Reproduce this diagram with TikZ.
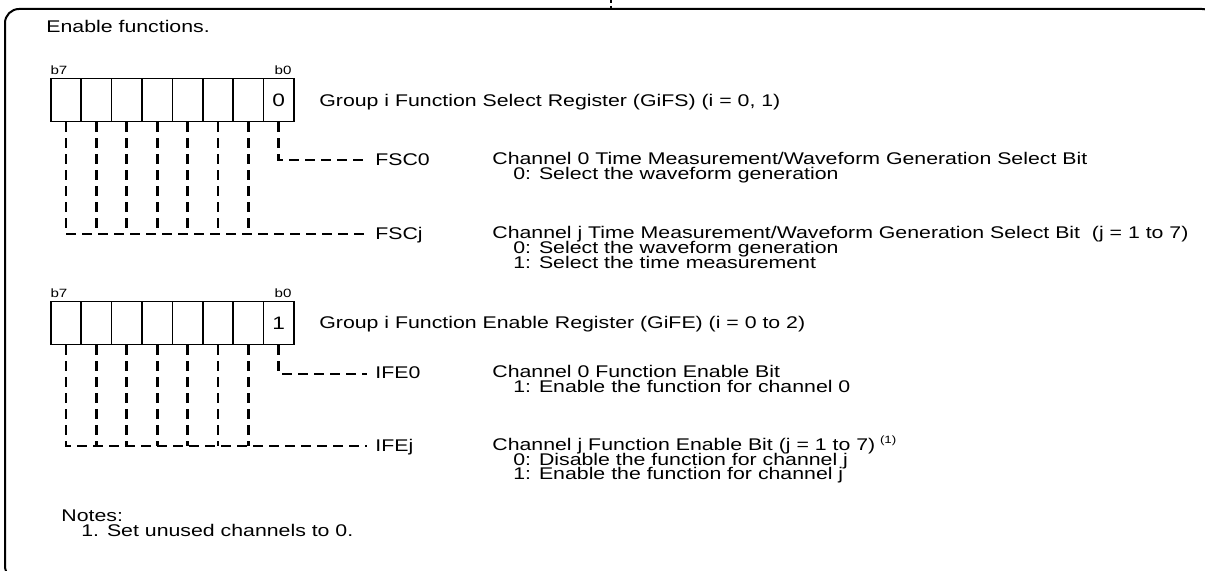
\documentclass[tikz,border=0pt]{standalone}
\usepackage{fontspec}
\setmainfont{Liberation Sans}
\usepackage{graphicx}
\newcommand{\hs}[1]{\scalebox{1.26}[1]{#1}}
\begin{document}
\begin{tikzpicture}[x=0.5pt,y=-0.5pt,
  txt/.style={anchor=base west, inner sep=0, font=\fontsize{8.45}{10}\selectfont},
  smalllbl/.style={anchor=base, inner sep=0, font=\fontsize{6}{7}\selectfont},
  cell/.style={draw, line width=0.75pt, minimum width=15.2pt, minimum height=21.5pt, inner sep=0, anchor=north west},
  bitval/.style={inner sep=0, font=\fontsize{9}{10}\selectfont},
  bus/.style={line width=1.4pt, dash pattern=on 5pt off 3pt}]
\useasboundingbox (0,0) rectangle (1205,571);
\clip (0,0) rectangle (1205,571);
\draw[line width=1pt, rounded corners=7pt] (5,9) rectangle (1216,580);
\draw[line width=0.8pt, dash pattern=on 1.5pt off 1.5pt] (611,0) -- (611,9);

\node[txt] (title) at (46,32.5) {\hs{Enable functions.}};

% Register 1
\foreach \k in {0,...,7} \node[cell] (a\k) at ({50+30.4*\k},78) {};
\node[bitval] (v0) at (a7.center) {\hs{0}};
\node[smalllbl] (b7a) at (59,75) {\hs{b7}};
\node[smalllbl] (b0a) at (283,75) {\hs{b0}};
\node[txt] (gifs) at (319,106.5) {\hs{Group i Function Select Register (GiFS) (i = 0, 1)}};

\node[txt] (fsc0) at (375,165.5) {\hs{FSC0}};
\node[txt] (fscj) at (375,239.5) {\hs{FSCj}};
\coordinate (bus0) at (367,160);
\coordinate (busj) at (367,234);
\draw[bus] (a7.south) |- (bus0);
\draw[bus] (a0.south) |- (busj);
\foreach \k in {1,...,6} \draw[bus] (a\k.south) -- (a\k.south |- busj);

\node[txt] (d0) at (492,164.5) {\hs{Channel 0 Time Measurement/Waveform Generation Select Bit}};
\node[txt] (d0a) at (513,179.5) {\hs{0: Select the waveform generation}};
\node[txt] (dj) at (492,238.5) {\hs{Channel j Time Measurement/Waveform Generation Select Bit\ \ (j = 1 to 7)}};
\node[txt] (dja) at (513,254) {\hs{0: Select the waveform generation}};
\node[txt] (djb) at (513,268.5) {\hs{1: Select the time measurement}};

% Register 2
\foreach \k in {0,...,7} \node[cell] (c\k) at ({50+30.4*\k},301) {};
\node[bitval] (v1) at (c7.center) {\hs{1}};
\node[smalllbl] (b7c) at (59,298) {\hs{b7}};
\node[smalllbl] (b0c) at (283,298) {\hs{b0}};
\node[txt] (gife) at (319,328.5) {\hs{Group i Function Enable Register (GiFE) (i = 0 to 2)}};

\node[txt] (ife0) at (375,378.5) {\hs{IFE0}};
\node[txt] (ifej) at (375,451.5) {\hs{IFEj}};
\coordinate (bus2) at (367,374);
\coordinate (bus3) at (367,446);
\draw[bus] (c7.south) |- (bus2);
\draw[bus] (c0.south) |- (bus3);
\foreach \k in {1,...,6} \draw[bus] (c\k.south) -- (c\k.south |- bus3);

\node[txt] (e0) at (492,377.5) {\hs{Channel 0 Function Enable Bit}};
\node[txt] (e0a) at (513,392.5) {\hs{1: Enable the function for channel 0}};
\node[txt] (ej) at (492,450.5) {\hs{Channel j Function Enable Bit (j = 1 to 7)}\ \raisebox{3.5pt}{\fontsize{5.3}{6}\selectfont\hs{(1)}}};
\node[txt] (eja) at (513,465.5) {\hs{0: Disable the function for channel j}};
\node[txt] (ejb) at (513,479.5) {\hs{1: Enable the function for channel j}};

\node[txt] (notes) at (61,521.5) {\hs{Notes:}};
\node[txt] (note1) at (81,536.5) {\hs{1. Set unused channels to 0.}};
\end{tikzpicture}
\end{document}
